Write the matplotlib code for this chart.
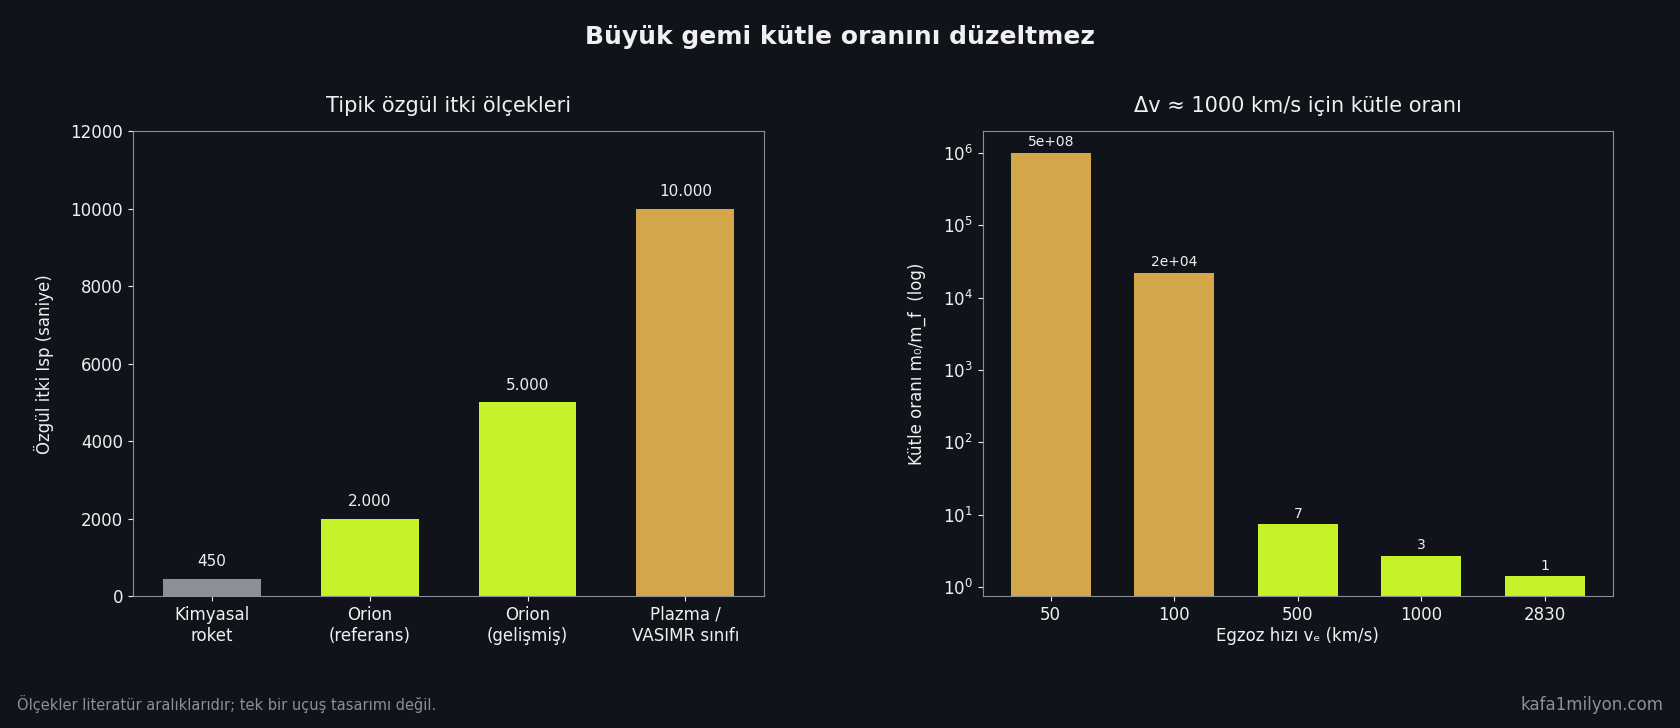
import matplotlib
matplotlib.use("Agg")
import matplotlib.pyplot as plt
import numpy as np

bg = "#10131a"
fg = "#f0f0f0"
gold = "#d4a64a"
lime = "#c6f22a"
gray = "#8c8f96"

isp_cats = ["Kimyasal\nroket", "Orion\n(referans)", "Orion\n(gelişmiş)", "Plazma /\nVASIMR sınıfı"]
isp_vals = [450, 2000, 5000, 10000]
isp_labels = ["450", "2.000", "5.000", "10.000"]
isp_colors = [gray, lime, lime, gold]

ve_cats = ["50", "100", "500", "1000", "2830"]
ratio_vals = [1e6, 22026, 7.39, 2.72, 1.42]   # first bar clipped at 1e6
ratio_labels = ["5e+08", "2e+04", "7", "3", "1"]
ratio_colors = [gold, gold, lime, lime, lime]

fig = plt.figure(figsize=(16.8, 7.28), dpi=100, facecolor=bg)
ax1 = fig.add_axes([0.079, 0.181, 0.376, 0.639])
ax2 = fig.add_axes([0.585, 0.181, 0.375, 0.639])

for ax in (ax1, ax2):
    ax.set_facecolor(bg)
    for s in ax.spines.values():
        s.set_color("#8a8f99")
    ax.tick_params(colors=fg, labelsize=12)

x = np.arange(len(isp_cats))
ax1.bar(x, isp_vals, width=0.62, color=isp_colors)
for xi, v, t in zip(x, isp_vals, isp_labels):
    ax1.text(xi, v + 250, t, ha="center", va="bottom", color=fg, fontsize=11)
ax1.set_xticks(x, isp_cats)
ax1.set_ylim(0, 12000)
ax1.set_xlim(-0.5, 3.5)
ax1.set_ylabel("Özgül itki Isp (saniye)", color=fg, fontsize=12, labelpad=12)
ax1.set_title("Tipik özgül itki ölçekleri", color=fg, fontsize=15, pad=14)

x2 = np.arange(len(ve_cats))
ax2.bar(x2, ratio_vals, width=0.65, color=ratio_colors)
for xi, v, t in zip(x2, ratio_vals, ratio_labels):
    ax2.text(xi, v * 1.12, t, ha="center", va="bottom", color=fg, fontsize=10)
ax2.set_yscale("log")
ax2.set_ylim(0.75, 2e6)
ax2.set_xlim(-0.55, 4.55)
ax2.set_xticks(x2, ve_cats)
ax2.set_xlabel("Egzoz hızı vₑ (km/s)", color=fg, fontsize=12, labelpad=2)
ax2.set_ylabel("Kütle oranı m₀/m_f  (log)", color=fg, fontsize=12, labelpad=12)
ax2.set_title("Δv ≈ 1000 km/s için kütle oranı", color=fg, fontsize=15, pad=14)
ax2.minorticks_off()

fig.suptitle("Büyük gemi kütle oranını düzeltmez", color=fg, fontsize=18, fontweight="bold", y=0.965)
fig.text(0.01, 0.025, "Ölçekler literatür aralıklarıdır; tek bir uçuş tasarımı değil.", color="#8a8f99", fontsize=10.5)
fig.text(0.99, 0.025, "kafa1milyon.com", color="#8a8f99", fontsize=12, ha="right")

fig.savefig("out.png", dpi=100, facecolor=bg)
